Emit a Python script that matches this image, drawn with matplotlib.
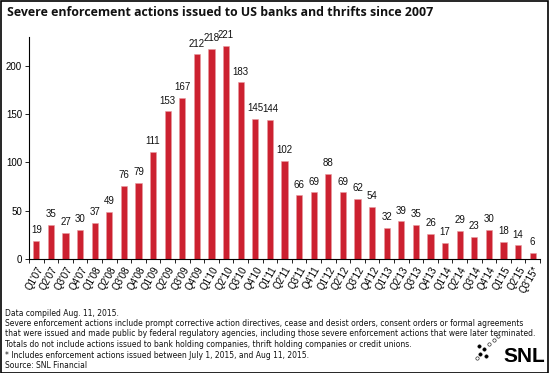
import matplotlib
matplotlib.use("Agg")
import matplotlib.pyplot as plt
from matplotlib.patches import Rectangle

quarters = ["Q1'07", "Q2'07", "Q3'07", "Q4'07", "Q1'08", "Q2'08", "Q3'08", "Q4'08",
            "Q1'09", "Q2'09", "Q3'09", "Q4'09", "Q1'10", "Q2'10", "Q3'10", "Q4'10",
            "Q1'11", "Q2'11", "Q3'11", "Q4'11", "Q1'12", "Q2'12", "Q3'12", "Q4'12",
            "Q1'13", "Q2'13", "Q3'13", "Q4'13", "Q1'14", "Q2'14", "Q3'14", "Q4'14",
            "Q1'15", "Q2'15", "Q3'15*"]
actions = [19, 35, 27, 30, 37, 49, 76, 79, 111, 153, 167, 212, 218, 221, 183, 145,
           144, 102, 66, 69, 88, 69, 62, 54, 32, 39, 35, 26, 17, 29, 23, 30,
           18, 14, 6]
y_ticks = [0, 50, 100, 150, 200]

notes = [
    "Data compiled Aug. 11, 2015.",
    "Severe enforcement actions include prompt corrective action directives, cease and desist orders, consent orders or formal agreements",
    "that were issued and made public by federal regulatory agencies, including those severe enforcement actions that were later terminated.",
    "Totals do not include actions issued to bank holding companies, thrift holding companies or credit unions.",
    "* Includes enforcement actions issued between July 1, 2015, and Aug 11, 2015.",
    "Source: SNL Financial",
]

W, H = 549, 373
fig = plt.figure(figsize=(W / 100, H / 100), dpi=100)
fig.patch.set_facecolor("white")

ax = fig.add_axes([29 / W, 1 - 259 / H, 511 / W, 222 / H])
x = list(range(len(actions)))
ax.bar(x, actions, width=0.42, color="#cc2130", edgecolor="#e89a9f", linewidth=0.4)
for xi, v in zip(x, actions):
    ax.text(xi, v + 6, str(v), ha="center", va="bottom", fontsize=7,
            family="Liberation Sans", color="#111111")

ax.set_xlim(-0.5, len(actions) - 0.5)
ax.set_ylim(0, 230)
ax.set_yticks(y_ticks)
ax.set_yticklabels([str(t) for t in y_ticks], fontsize=7, family="Liberation Sans")
ax.set_xticks(x)
ax.set_xticklabels(quarters, rotation=60, ha="right", rotation_mode="anchor",
                   fontsize=7, family="Liberation Sans")
ax.set_xticks([i - 0.5 for i in range(len(actions) + 1)], minor=True)
ax.tick_params(axis="x", which="major", length=0, pad=4)
ax.tick_params(axis="x", which="minor", length=3, width=0.6)
ax.tick_params(axis="y", length=3, width=0.6, pad=2)
for s in ["top", "right"]:
    ax.spines[s].set_visible(False)
for s in ["left", "bottom"]:
    ax.spines[s].set_linewidth(0.8)

fig.text(7 / W, 1 - 13 / H, "Severe enforcement actions issued to US banks and thrifts since 2007",
         fontsize=8.9, fontweight="bold", family="Open Sans", stretch="condensed",
         va="center", ha="left", color="#111111")

ny = 313
for line in notes:
    fig.text(5 / W, 1 - ny / H, line, fontsize=5.5, family="Liberation Sans Narrow",
             va="center", ha="left", color="#111111")
    ny += 10.5

# SNL logo
fig.text(545 / W, 1 - 357 / H, "SNL", fontsize=15, fontweight="bold",
         family="Liberation Sans", ha="right", va="center")
dots = [(479, 346, "k"), (484, 349, "k"), (480, 354, "k"), (486, 356, "k"),
        (489, 344, "w"), (494, 340, "w"), (498, 336, "w"), (477, 358, "w")]
for dx, dy, c in dots:
    fig.add_artist(plt.Line2D([dx / W], [1 - dy / H], marker="o", markersize=2.4,
                              markerfacecolor=c, markeredgecolor="k",
                              markeredgewidth=0.4, transform=fig.transFigure))

fig.add_artist(Rectangle((0.5 / W, 0.5 / H), 1 - 1.5 / W, 1 - 1.5 / H, fill=False,
                         edgecolor="black", linewidth=1.2, transform=fig.transFigure))

fig.savefig("out.png", dpi=100)
